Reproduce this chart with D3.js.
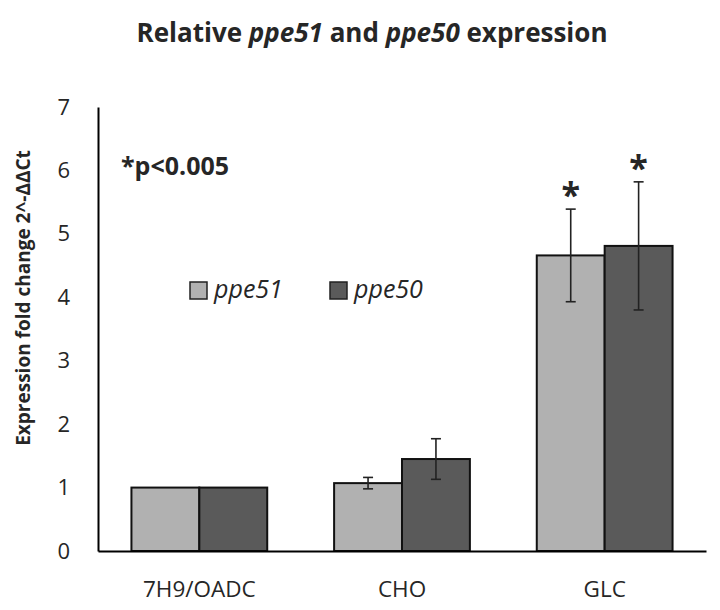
<!doctype html>
<html>
<head>
<meta charset="utf-8">
<script src="https://cdn.jsdelivr.net/npm/d3@7"></script>
<style>
  body { margin: 0; background: #fff; }
  svg text { font-family: "Open Sans", sans-serif; fill: #262626; }
</style>
</head>
<body>
<svg id="chart"></svg>
<script>
// data
const categories = ["7H9/OADC", "CHO", "GLC"];
const seriesNames = ["ppe51", "ppe50"];
const ppe51 = [1.0, 1.07, 4.66];
const ppe51Err = [0, 0.09, 0.73];
const ppe50 = [1.0, 1.45, 4.81];
const ppe50Err = [0, 0.32, 1.01];
const significant = [[false, false], [false, false], [true, true]];
const yTicks = [0, 1, 2, 3, 4, 5, 6, 7];
const colors = ["#b1b1b1", "#5a5a5a"];

const width = 720, height = 610;
const margin = {top: 107, right: 14, bottom: 59, left: 98};

const svg = d3.select("#chart")
    .attr("width", width)
    .attr("height", height);

const x = d3.scaleBand()
    .domain(categories)
    .range([margin.left, width - margin.right])
    .paddingInner(0.33)
    .paddingOuter(0.165);

const xSub = d3.scaleBand()
    .domain(seriesNames)
    .range([0, x.bandwidth()]);

const y = d3.scaleLinear()
    .domain([0, 7])
    .range([height - margin.bottom, margin.top]);

const rows = categories.map((c, i) => ({
    cat: c,
    vals: [
        {name: "ppe51", v: ppe51[i], e: ppe51Err[i], sig: significant[i][0], k: 0},
        {name: "ppe50", v: ppe50[i], e: ppe50Err[i], sig: significant[i][1], k: 1}
    ]
}));

// title
const title = svg.append("text")
    .attr("x", 372)
    .attr("y", 42)
    .attr("text-anchor", "middle")
    .attr("font-size", 26)
    .attr("font-weight", "bold");
title.append("tspan").text("Relative ");
title.append("tspan").attr("font-style", "italic").text("ppe51");
title.append("tspan").text(" and ");
title.append("tspan").attr("font-style", "italic").text("ppe50");
title.append("tspan").text(" expression");

// y axis
const yAxis = svg.append("g")
    .attr("transform", `translate(${margin.left},0)`)
    .call(d3.axisLeft(y).tickValues(yTicks).tickSize(0).tickPadding(28).tickFormat(d3.format("d")));
yAxis.select(".domain").attr("stroke", "#000").attr("stroke-width", 2);
yAxis.selectAll("text")
    .attr("font-size", 22)
    .attr("font-family", "'Open Sans', sans-serif")
    .attr("fill", "#262626");

svg.append("text")
    .attr("transform", `translate(30,298) rotate(-90)`)
    .attr("text-anchor", "middle")
    .attr("font-size", 19)
    .attr("font-weight", "bold")
    .text("Expression fold change 2^-ΔΔCt");

// bars
const groups = svg.append("g")
    .selectAll("g")
    .data(rows)
    .join("g")
    .attr("transform", d => `translate(${x(d.cat)},0)`);

groups.selectAll("rect")
    .data(d => d.vals)
    .join("rect")
    .attr("x", d => xSub(d.name))
    .attr("y", d => y(d.v))
    .attr("width", xSub.bandwidth())
    .attr("height", d => y(0) - y(d.v))
    .attr("fill", d => colors[d.k])
    .attr("stroke", "#111")
    .attr("stroke-width", 2);

// error bars
const err = groups.selectAll("g.err")
    .data(d => d.vals.filter(v => v.e > 0))
    .join("g")
    .attr("class", "err")
    .attr("stroke", "#222")
    .attr("stroke-width", 1.6);

const cx = d => xSub(d.name) + xSub.bandwidth() / 2;
err.append("line")
    .attr("x1", cx).attr("x2", cx)
    .attr("y1", d => y(d.v + d.e)).attr("y2", d => y(d.v - d.e));
err.append("line")
    .attr("x1", d => cx(d) - 5).attr("x2", d => cx(d) + 5)
    .attr("y1", d => y(d.v + d.e)).attr("y2", d => y(d.v + d.e));
err.append("line")
    .attr("x1", d => cx(d) - 5).attr("x2", d => cx(d) + 5)
    .attr("y1", d => y(d.v - d.e)).attr("y2", d => y(d.v - d.e));

// significance stars
groups.selectAll("text.star")
    .data(d => d.vals.filter(v => v.sig))
    .join("text")
    .attr("class", "star")
    .attr("x", cx)
    .attr("y", d => y(d.v + d.e) - 2)
    .attr("text-anchor", "middle")
    .attr("font-size", 34)
    .attr("font-weight", "bold")
    .text("*");

// x axis
const xAxis = svg.append("g")
    .attr("transform", `translate(0,${y(0)})`)
    .call(d3.axisBottom(x).tickSize(0).tickPadding(30));
xAxis.select(".domain").attr("stroke", "#000").attr("stroke-width", 2);
xAxis.selectAll("text")
    .attr("font-size", 22.5)
    .attr("font-family", "'Open Sans', sans-serif")
    .attr("fill", "#262626");

// p-value note
svg.append("text")
    .attr("x", 121)
    .attr("y", 175)
    .attr("font-size", 25)
    .attr("font-weight", "bold")
    .text("*p<0.005");

// legend
const legend = svg.append("g")
    .selectAll("g")
    .data(seriesNames)
    .join("g")
    .attr("transform", (d, i) => `translate(${190 + i * 140},282)`);
legend.append("rect")
    .attr("width", 17).attr("height", 17)
    .attr("fill", (d, i) => colors[i])
    .attr("stroke", "#222")
    .attr("stroke-width", 1.5);
legend.append("text")
    .attr("x", 24)
    .attr("y", 16)
    .attr("font-size", 25)
    .attr("font-style", "italic")
    .text(d => d);
</script>
</body>
</html>
